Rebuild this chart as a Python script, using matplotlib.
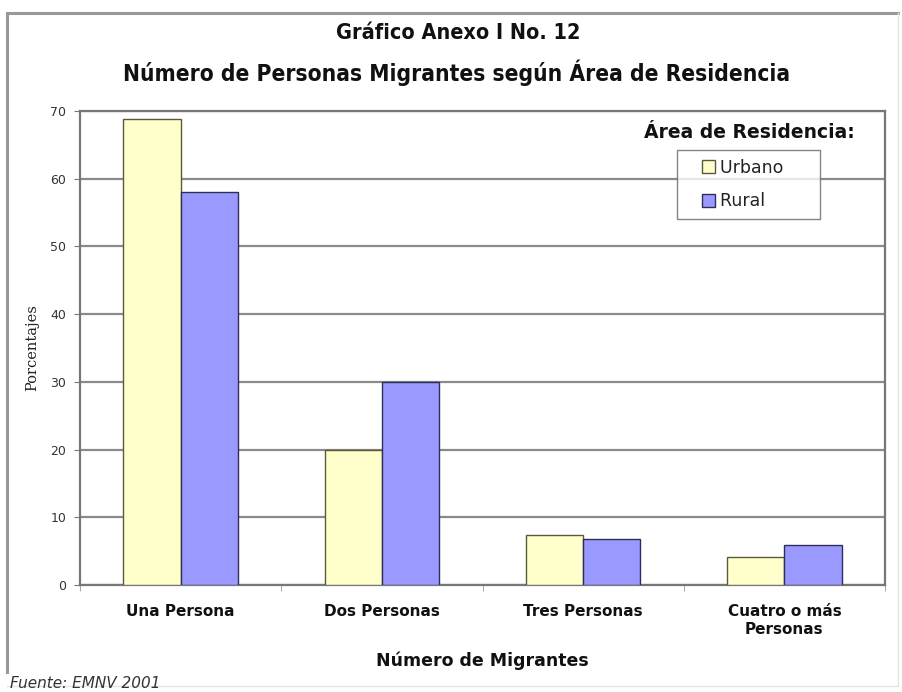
import matplotlib
matplotlib.use("Agg")
import matplotlib.pyplot as plt
from matplotlib.lines import Line2D
from matplotlib.patches import Rectangle
from matplotlib.legend_handler import HandlerPatch
import numpy as np

categories = ["Una Persona", "Dos Personas", "Tres Personas", "Cuatro o más\nPersonas"]
urbano = [68.8, 20.0, 7.4, 4.1]
rural = [58.0, 30.0, 6.8, 5.9]
series_names = ["Urbano", "Rural"]
yticks = [0, 10, 20, 30, 40, 50, 60, 70]

title_font = ["DejaVu Sans"]

fig = plt.figure(figsize=(9.02, 6.92), dpi=100)
ax = fig.add_axes([80 / 902, 1 - 585 / 692, (885 - 80) / 902, (585 - 111) / 692])

x = np.arange(len(categories))
w = 0.284
bars_u = ax.bar(x - w / 2, urbano, width=w, color="#FFFFCC", edgecolor="#5a5a3a", linewidth=1.0,
                label=series_names[0], zorder=3)
bars_r = ax.bar(x + w / 2, rural, width=w, color="#9999FF", edgecolor="#2e2e5a", linewidth=1.0,
                label=series_names[1], zorder=3)

ax.set_xlim(-0.5, len(categories) - 0.5)
ax.set_ylim(0, 70)
ax.set_yticks(yticks)
ax.yaxis.grid(True, color="#8a8a8a", linewidth=1.6, zorder=0)
ax.set_axisbelow(True)

ax.set_xticks(x)
ax.set_xticklabels(categories, fontsize=11, fontweight="bold", family="DejaVu Sans",
                   color="#111111", linespacing=1.25)
ax.set_xticks(np.arange(len(categories) + 1) - 0.5, minor=True)
ax.tick_params(axis="x", which="major", length=0, pad=14)
ax.tick_params(axis="x", which="minor", length=4, color="#999999")
ax.tick_params(axis="y", length=4, color="#777777", labelsize=9, labelcolor="#333333", pad=6)

for side in ["left", "right", "top", "bottom"]:
    ax.spines[side].set_color("#777777")
    ax.spines[side].set_linewidth(1.6)

ax.set_ylabel("Porcentajes", family="DejaVu Serif", fontsize=10.5, labelpad=8, color="#222222")
ax.set_xlabel("Número de Migrantes", fontsize=12.5, fontweight="bold", labelpad=10, color="#111111")


def small_key(legend, orig_handle, xdescent, ydescent, width, height, fontsize):
    # square key pushed to the right end of the handle slot
    s = height * 1.0
    return Rectangle((width - s - xdescent, -ydescent), s, s)


leg = ax.legend([bars_u.patches[0], bars_r.patches[0]], series_names,
                loc="upper left", bbox_to_anchor=((677 - 80) / 805, (584 - 150) / 473),
                frameon=True, fancybox=False, fontsize=12.5, handlelength=1.7,
                handleheight=0.75, handletextpad=0.3, borderpad=0.5, labelspacing=0.9,
                borderaxespad=0,
                handler_map={Rectangle: HandlerPatch(patch_func=small_key)})
leg.get_frame().set_edgecolor("#666666")
leg.get_frame().set_linewidth(1.0)
for t in leg.get_texts():
    t.set_color("#222222")
    t.set_text(t.get_text() + "     ")

fig.text(749 / 902, 1 - 133 / 692, "Área de Residencia:", ha="center", va="center",
         fontsize=13.5, fontweight="bold", color="#111111")

fig.text(458 / 902, 1 - 33 / 692, "Gráfico Anexo I No. 12", ha="center", va="center",
         fontsize=15.5, fontweight="heavy", fontstretch="condensed", family=title_font,
         color="#111111")
fig.text(457 / 902, 1 - 73 / 692, "Número de Personas Migrantes según Área de Residencia",
         ha="center", va="center", fontsize=16.3, fontweight="heavy", fontstretch="condensed",
         family=title_font, color="#111111")

fig.text(10 / 902, 1 - 683 / 692, "Fuente: EMNV 2001", ha="left", va="center",
         fontsize=11, style="italic", color="#333333")

# outer frame around the chart
fig.add_artist(Line2D([7 / 902, 898 / 902], [1 - 13 / 692, 1 - 13 / 692], color="#999999", linewidth=2.2))
fig.add_artist(Line2D([7 / 902, 7 / 902], [1 - 13 / 692, 1 - 672 / 692], color="#999999", linewidth=2.2))
fig.add_artist(Line2D([898 / 902, 898 / 902], [1 - 13 / 692, 1 - 685 / 692], color="#e4e4e4", linewidth=1.0))
fig.add_artist(Line2D([7 / 902, 898 / 902], [1 - 686 / 692, 1 - 686 / 692], color="#e4e4e4", linewidth=1.0))

fig.savefig("out.png", dpi=100)
